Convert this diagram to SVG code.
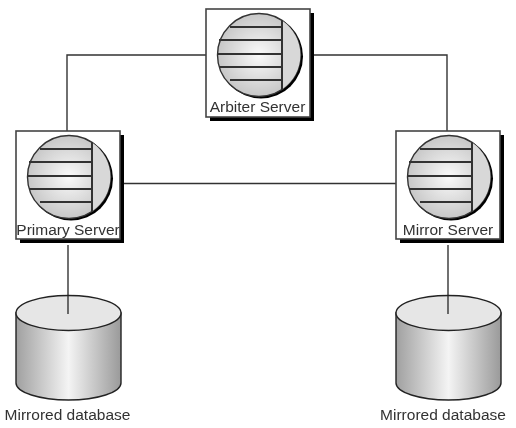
<svg xmlns="http://www.w3.org/2000/svg" width="516" height="428" viewBox="0 0 516 428">
<style>
.wire{fill:none;stroke:#333;stroke-width:1.4}
.box{fill:#fff;stroke:#444;stroke-width:1.6}
.shadow{fill:#000}
.disc{fill:url(#discFill);stroke:#333;stroke-width:1.4}
.side{fill:#d8d8d8}
.rule{stroke:#333;stroke-width:2;fill:none}
.cylSide{fill:url(#cylFill);stroke:#222;stroke-width:1.4}
.cylTop{fill:#e6e6e6;stroke:#222;stroke-width:1.4}
text{font-family:"Liberation Sans",Arial,sans-serif;fill:#333;text-anchor:middle}
.lab{font-size:15.500px}
</style>
<defs>
<filter id="soft" filterUnits="userSpaceOnUse" x="0" y="0" width="516" height="428"><feGaussianBlur stdDeviation="0.4"/></filter>
<radialGradient id="discFill" cx="0.5" cy="0.5" r="0.55"><stop offset="0" stop-color="#fafafa"/><stop offset="1" stop-color="#c2c2c2"/></radialGradient>
<linearGradient id="cylFill" x1="0" x2="1" y1="0" y2="0"><stop offset="0" stop-color="#a0a0a0"/><stop offset="0.5" stop-color="#f4f4f4"/><stop offset="1" stop-color="#9a9a9a"/></linearGradient>
<g id="srv">
<rect class="shadow" x="4" y="4" width="104" height="108"/>
<rect class="box" x="0" y="0" width="104" height="108"/>
<circle class="shadow" cx="55" cy="47.500" r="42"/>
<circle class="disc" cx="53" cy="46" r="41.500"/>
<path class="side" d="M76 11.500A41.500 41.500 0 0 1 76 80.500Z"/>
<path class="rule" d="M76 11V81M24 18H76M13 31H76M11.500 45H76M13 58H76M24 71H76"/>
</g>
<g id="cyl">
<path class="cylSide" d="M0 17V87A52.500 17 0 0 0 105 87V17Z"/>
<ellipse class="cylTop" cx="52.500" cy="17" rx="52.500" ry="17.500"/>
</g>
</defs>
<g filter="url(#soft)">
<g id="connectors">
<path class="wire" d="M206 55H67V131"/>
<path class="wire" d="M314 55H447V131"/>
<path class="wire" d="M123 183.500H396"/>
<path class="wire" d="M68 245V296"/>
<path class="wire" d="M448 245V296"/>
</g>
<g id="arbiter"><use href="#srv" x="206" y="9"/><text class="lab" x="257.500" y="112">Arbiter Server</text></g>
<g id="primary"><use href="#srv" x="16" y="131"/><text class="lab" x="68" y="235">Primary Server</text></g>
<g id="mirror"><use href="#srv" x="396" y="131"/><text class="lab" x="448" y="235">Mirror Server</text></g>
<g id="db1"><use href="#cyl" x="16" y="296"/><path class="wire" d="M68 296V314"/><text class="lab" x="67.500" y="420">Mirrored database</text></g>
<g id="db2"><use href="#cyl" x="396" y="296"/><path class="wire" d="M448 296V314"/><text class="lab" x="443" y="420">Mirrored database</text></g>
</g>
</svg>
